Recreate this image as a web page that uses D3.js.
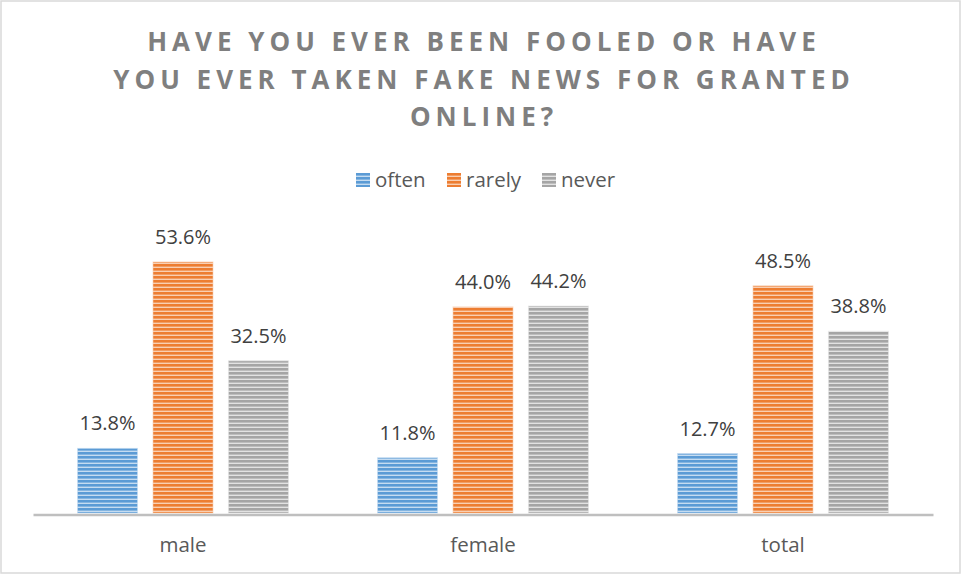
<!DOCTYPE html>
<html>
<head>
<meta charset="utf-8">
<script src="https://cdn.jsdelivr.net/npm/d3@7/dist/d3.min.js"></script>
<style>
  html, body { margin: 0; padding: 0; background: #fff; }
  svg { display: block; }
</style>
</head>
<body>
<svg id="chart" width="962" height="575"></svg>
<script>
// Survey answers by respondent group (percent)
const categories = ["male", "female", "total"];
const seriesNames = ["often", "rarely", "never"];
const often  = [13.8, 11.8, 12.7];
const rarely = [53.6, 44.0, 48.5];
const never  = [32.5, 44.2, 38.8];
const titleLines = [
  "HAVE YOU EVER BEEN FOOLED OR HAVE",
  "YOU EVER TAKEN FAKE NEWS FOR GRANTED",
  "ONLINE?"
];

const seriesValues = { often, rarely, never };
const colors = {
  often:  { dark: "#5b9bd5", light: "#c5dcf1" },
  rarely: { dark: "#ed7d31", light: "#f9cfb2" },
  never:  { dark: "#a5a5a5", light: "#e2e2e2" }
};

const W = 962, H = 575;
const svg = d3.select("#chart");
const font = "'Open Sans', 'Segoe UI', sans-serif";

// Chart frame
svg.append("rect")
  .attr("x", 1).attr("y", 1).attr("width", W - 3).attr("height", H - 3)
  .attr("fill", "#fff").attr("stroke", "#d9d9d9").attr("stroke-width", 1.5);

// Horizontal-stripe fill patterns
const defs = svg.append("defs");
seriesNames.forEach(s => {
  const p = defs.append("pattern")
    .attr("id", "stripe-" + s)
    .attr("patternUnits", "userSpaceOnUse")
    .attr("width", 8).attr("height", 4);
  p.append("rect").attr("width", 8).attr("height", 4).attr("fill", colors[s].light);
  p.append("rect").attr("y", 0).attr("width", 8).attr("height", 2.6).attr("fill", colors[s].dark);
});

// Title
const title = svg.append("text")
  .attr("text-anchor", "middle")
  .attr("font-family", font)
  .attr("font-weight", 700)
  .attr("font-size", 26)
  .attr("letter-spacing", 5)
  .attr("fill", "#7f7f7f");
titleLines.forEach((t, i) => {
  title.append("tspan").attr("x", W / 2 + 3).attr("y", 51 + i * 37.5).text(t);
});

// Scales
const x0 = d3.scaleBand().domain(categories).range([33, 933]).paddingInner(0).paddingOuter(0);
const x1 = d3.scaleBand().domain(seriesNames).range([0, x0.bandwidth()])
  .paddingInner(0.205).paddingOuter(0.59);
const y = d3.scaleLinear().domain([0, 60]).range([513, 232]);

// Bars
const groups = svg.append("g").selectAll("g")
  .data(categories)
  .join("g")
  .attr("transform", d => `translate(${x0(d)},0)`);

groups.selectAll("rect")
  .data((c, i) => seriesNames.map(s => ({ s, v: seriesValues[s][i] })))
  .join("rect")
  .attr("x", d => x1(d.s))
  .attr("y", d => y(d.v))
  .attr("width", x1.bandwidth())
  .attr("height", d => y(0) - y(d.v))
  .attr("fill", d => `url(#stripe-${d.s})`)
  .attr("stroke", d => colors[d.s].light)
  .attr("stroke-opacity", 0.6)
  .attr("stroke-width", 1);

// Value labels
groups.selectAll("text")
  .data((c, i) => seriesNames.map(s => ({ s, v: seriesValues[s][i] })))
  .join("text")
  .attr("x", d => x1(d.s) + x1.bandwidth() / 2)
  .attr("y", d => y(d.v) - 18)
  .attr("text-anchor", "middle")
  .attr("font-family", font)
  .attr("font-size", 20)
  .attr("fill", "#404040")
  .text(d => d.v.toFixed(1) + "%");

// Category axis
const xAxis = svg.append("g").attr("transform", "translate(0,514.5)")
  .call(d3.axisBottom(x0).tickSize(0).tickPadding(23));
xAxis.select(".domain").attr("stroke", "#bfbfbf").attr("stroke-width", 2.5);
xAxis.selectAll("text")
  .attr("font-family", font)
  .attr("font-size", 20.5)
  .attr("fill", "#595959");

// Legend
const legendX = [356, 447, 542];
const legend = svg.append("g").selectAll("g")
  .data(seriesNames)
  .join("g")
  .attr("transform", (d, i) => `translate(${legendX[i]},173)`);
legend.append("rect")
  .attr("width", 14).attr("height", 14)
  .attr("fill", d => `url(#stripe-${d})`);
legend.append("text")
  .attr("x", 19).attr("y", 14)
  .attr("font-family", font)
  .attr("font-size", 20.5)
  .attr("fill", "#595959")
  .text(d => d);
</script>
</body>
</html>
